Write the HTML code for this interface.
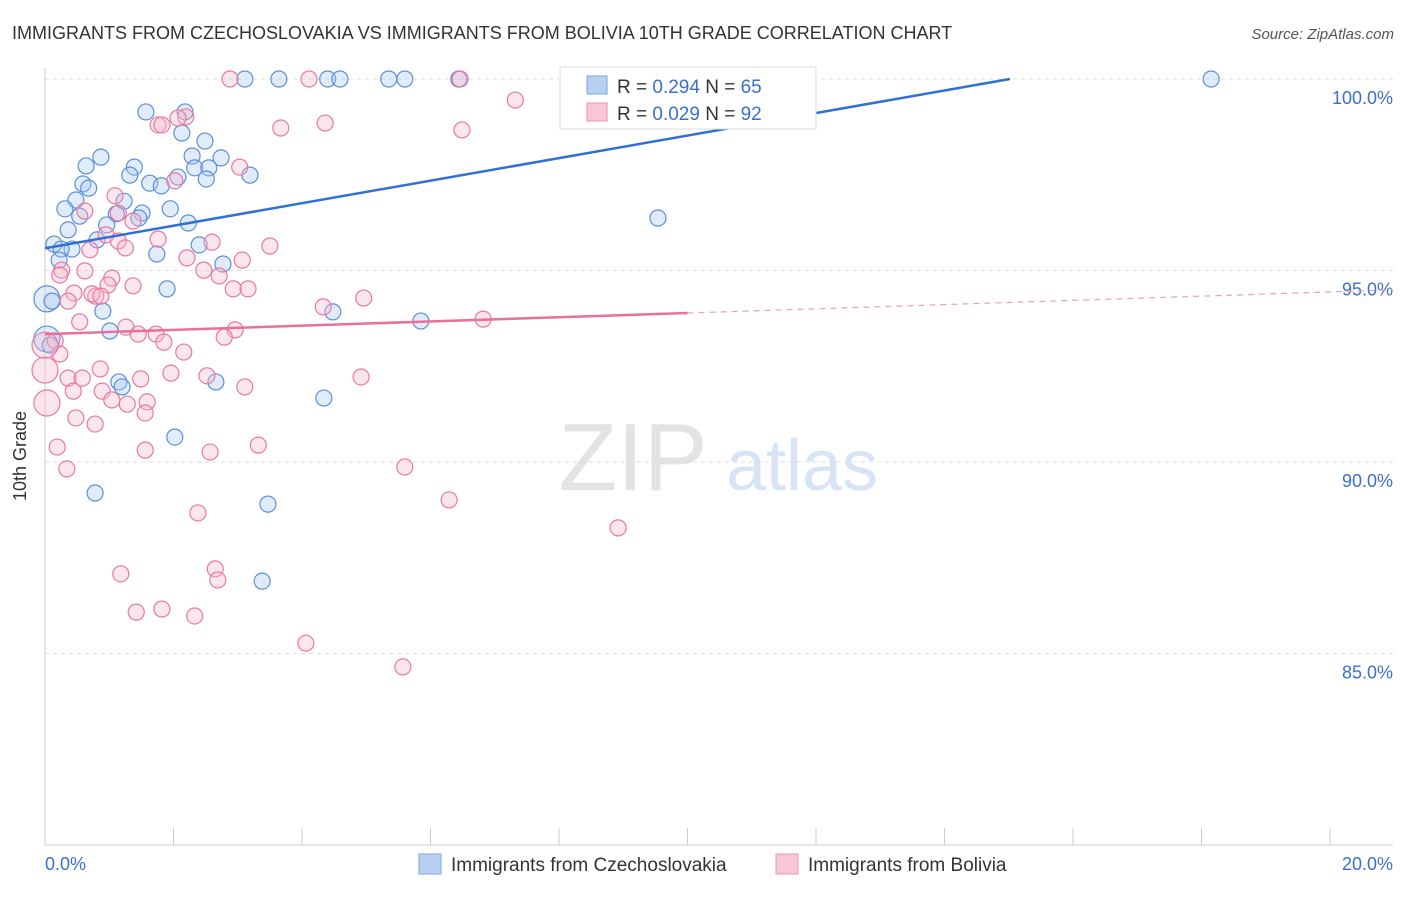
<!DOCTYPE html>
<html><head><meta charset="utf-8"><style>
body{margin:0;background:#fff;font-family:"Liberation Sans",sans-serif;}
svg text{font-family:"Liberation Sans",sans-serif;}
</style></head><body>
<svg id="c" width="1406" height="892" xmlns="http://www.w3.org/2000/svg">
<text x="12" y="39" font-size="18" fill="#333">IMMIGRANTS FROM CZECHOSLOVAKIA VS IMMIGRANTS FROM BOLIVIA 10TH GRADE CORRELATION CHART</text>
<text x="1394" y="39" font-size="15" fill="#555" text-anchor="end" font-style="italic">Source: ZipAtlas.com</text>
<text x="26" y="456" font-size="18" fill="#333" text-anchor="middle" transform="rotate(-90 26 456)">10th Grade</text>
<g><text x="633" y="490" font-size="96" fill="#e3e3e3" text-anchor="middle" font-family="Liberation Serif">ZIP</text><text x="802" y="490" font-size="72" fill="#d6e4f5" text-anchor="middle">atlas</text></g>
<g id="grid"></g><g id="pts"></g><g id="trend"></g>
<g>
<rect x="560" y="67" width="256" height="62" fill="#fff" stroke="#ddd"/>
<rect x="587" y="76" width="20" height="18" fill="#b8d1f3" stroke="#7aa6e0"/>
<rect x="587" y="103" width="20" height="18" fill="#f9c6d6" stroke="#ec94b1"/>
<text x="617" y="93" font-size="19" fill="#333">R = <tspan fill="#3a6fcf">0.294</tspan>   N = <tspan fill="#3a6fcf">65</tspan></text>
<text x="617" y="120" font-size="19" fill="#333">R = <tspan fill="#3a6fcf">0.029</tspan>   N = <tspan fill="#3a6fcf">92</tspan></text>
</g>
<g>
<rect x="419" y="854" width="22" height="20" fill="#b8d1f3" stroke="#7aa6e0"/>
<text x="451" y="871" font-size="19" fill="#333">Immigrants from Czechoslovakia</text>
<rect x="776" y="854" width="22" height="20" fill="#f9c6d6" stroke="#ec94b1"/>
<text x="808" y="871" font-size="19" fill="#333">Immigrants from Bolivia</text>
</g>
</svg>
<script>
const blueX=[3.11,3.64,4.40,4.59,5.35,5.60,6.44,8.16,18.15,1.57,2.18,2.13,2.49,0.87,2.29,2.74,0.64,1.39,1.32,2.33,2.55,3.19,2.07,2.51,1.63,1.81,0.59,0.68,0.48,0.31,1.23,0.54,1.11,1.51,1.95,1.46,2.23,9.54,0.96,0.36,0.81,0.14,0.42,0.25,2.40,1.74,0.22,2.77,0.03,0.11,0.90,4.48,5.85,1.01,0.03,0.08,1.15,2.66,1.20,4.34,2.02,0.78,3.47,3.38,1.90];
const blueY=[100,100,100,100,100,100,100,100,100,99.14,99.14,98.59,98.38,97.96,97.99,97.94,97.73,97.70,97.49,97.68,97.68,97.49,97.44,97.39,97.28,97.21,97.26,97.15,96.84,96.61,96.81,96.42,96.48,96.50,96.61,96.37,96.24,96.37,96.19,96.06,95.80,95.69,95.56,95.56,95.67,95.43,95.27,95.17,94.26,94.20,93.94,93.92,93.68,93.42,93.21,93.05,92.09,92.09,91.96,91.67,90.65,89.19,88.90,86.89,94.52];
const pinkX=[2.88,4.11,6.46,7.32,2.19,2.07,1.76,1.82,3.67,4.36,6.49,1.09,3.03,2.02,1.14,1.37,0.62,0.95,1.14,1.76,0.70,1.25,2.60,3.50,2.21,3.07,0.26,0.62,2.47,0.23,1.04,2.71,0.98,1.37,2.93,3.16,0.45,0.79,0.73,0.87,4.96,4.33,0.54,1.26,2.96,1.73,1.45,1.85,2.79,6.82,0.16,0.23,2.16,0.86,1.96,2.52,0.36,0.58,1.49,4.92,3.11,0.44,0.89,1.04,1.28,1.59,0.03,1.56,0.48,0.78,3.32,1.56,2.57,0.19,0.34,5.60,6.29,2.38,8.92,1.18,2.65,2.69,1.42,1.82,2.33,4.06,5.57,0.00,0.00,0.36];
const pinkY=[100,100,100,99.45,99.01,98.98,98.80,98.80,98.72,98.85,98.67,96.95,97.70,97.34,96.50,96.29,96.55,95.93,95.77,95.82,95.54,95.59,95.74,95.64,95.33,95.27,95.01,94.99,95.01,94.88,94.80,94.86,94.62,94.60,94.52,94.52,94.41,94.33,94.39,94.33,94.28,94.05,93.66,93.52,93.45,93.34,93.34,93.13,93.26,93.73,93.16,92.82,92.87,92.43,92.32,92.25,92.19,92.19,92.17,92.22,91.96,91.85,91.85,91.62,91.51,91.57,91.54,91.28,91.15,90.99,90.44,90.31,90.26,90.39,89.82,89.87,89.01,88.67,88.28,87.08,87.21,86.92,86.08,86.16,85.98,85.27,84.65,92.40,93.05,94.20];
const yTicks=[100,95,90,85];
const yTickLabels=["100.0%","95.0%","90.0%","85.0%"];
const xTicks=[0,2,4,6,8,10,12,14,16,18,20];
const blueTrend=[95.58,0.2943];
const pinkTrend=[93.34,0.055];
const X=v=>45+v*64.25, Y=v=>79+(100-v)*38.3;
const NS="http://www.w3.org/2000/svg";
function mk(t,a,p){const e=document.createElementNS(NS,t);for(const k in a)e.setAttribute(k,a[k]);p.appendChild(e);return e;}
const g=document.getElementById('grid');
yTicks.forEach((t,i)=>{const l=mk('line',{x1:45,x2:1393,y1:Y(t),y2:Y(t),stroke:'#ddd','stroke-dasharray':'4 4'},g);


const tx=mk('text',{x:1393,y:Y(t)+25,'font-size':18,fill:'#3a6fcf','text-anchor':'end'},g);tx.textContent=yTickLabels[i];

});
const ax=mk('line',{x1:45,x2:45,y1:68,y2:845,stroke:'#ccc'},g);


const bx=mk('line',{x1:45,x2:1393,y1:845,y2:845,stroke:'#ccc'},g);


xTicks.forEach(t=>{const l=mk('line',{x1:X(t),x2:X(t),y1:828,y2:845,stroke:'#ccc'},g);

});
[[0,'0.0%','start',45],[20,'20.0%','end',1393]].forEach(d=>{const tx=mk('text',{x:d[3],y:870,'font-size':18,fill:'#3a6fcf','text-anchor':d[2]},g);tx.textContent=d[1];

});
const p=document.getElementById('pts');
function pts(xs,ys,fill,stroke,name){xs.forEach((x,i)=>{const big=x<0.05;const c=mk('circle',{cx:X(x),cy:Y(ys[i]),r:big?13:8,fill:fill,'fill-opacity':0.35,stroke:stroke,'stroke-width':1.2},p);

});}
pts(blueX,blueY,'#a9c8f0','#5b8fd9','point-czechoslovakia');
pts(pinkX,pinkY,'#f7b8cc','#e8799e','point-bolivia');
const tr=document.getElementById('trend');
const bl=mk('line',{x1:X(0),y1:Y(blueTrend[0]),x2:X((100-blueTrend[0])/blueTrend[1]),y2:Y(100),stroke:'#2f6fd6','stroke-width':2.5},tr);


const pl=mk('line',{x1:X(0),y1:Y(pinkTrend[0]),x2:X(10),y2:Y(pinkTrend[0]+10*pinkTrend[1]),stroke:'#e8709a','stroke-width':2.5},tr);


const pd=mk('line',{x1:X(10),y1:Y(pinkTrend[0]+10*pinkTrend[1]),x2:1393,y2:Y(pinkTrend[0]+20.98*pinkTrend[1]),stroke:'#e8a0b8','stroke-width':1.2,'stroke-dasharray':'6 5'},tr);


</script>
</body></html>
